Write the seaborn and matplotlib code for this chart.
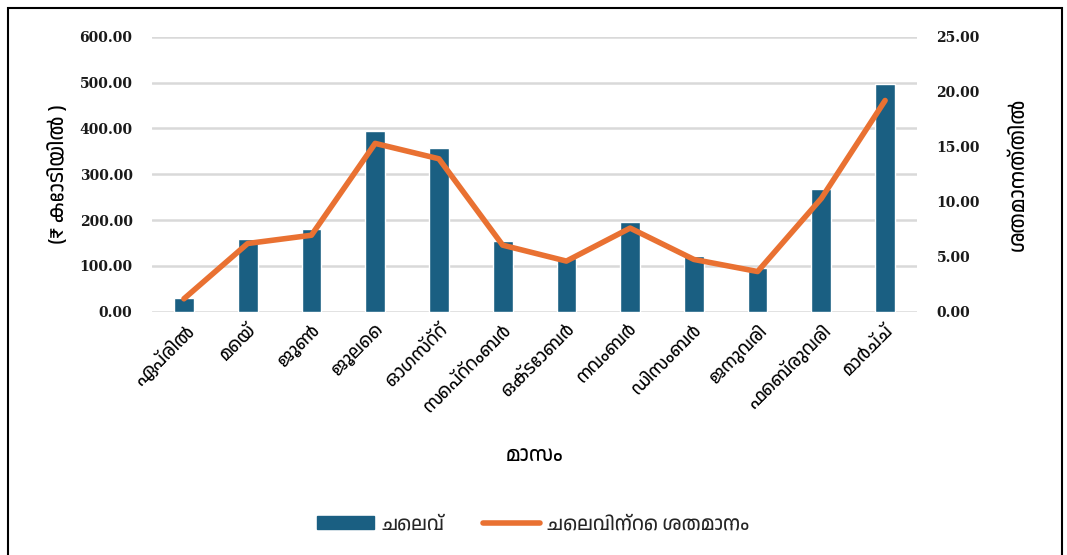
import numpy as np
import pandas as pd
import matplotlib
matplotlib.use("Agg")
import matplotlib.pyplot as plt
from matplotlib import font_manager
from matplotlib.patches import Rectangle
from matplotlib.lines import Line2D
import seaborn as sns

# --- chart data ---
months = ["ഏപ്രിൽ", "മെയ്", "ജൂൺ", "ജൂലൈ", "ഓഗസ്റ്റ്", "സെപ്റ്റംബർ",
          "ഒക്ടോബർ", "നവംബർ", "ഡിസംബർ", "ജനുവരി", "ഫെബ്രുവരി", "മാർച്ച്"]
spend = [30, 159, 180, 394, 357, 155, 117, 196, 121, 95, 268, 497]          # ₹ crore
spend_pct = [1.17, 6.2, 6.95, 15.3, 13.9, 6.05, 4.6, 7.6, 4.75, 3.65, 10.3, 19.2]
left_ticks = [0, 100, 200, 300, 400, 500, 600]
right_ticks = [0, 5, 10, 15, 20, 25]

x_title = "മാസം"
left_title = "(₹ കോടിയിൽ )"
right_title = "ശതമാനത്തിൽ"
bar_name = "ചെലവ്"
line_name = "ചെലവിന്റെ ശതമാനം"

BAR_COLOR = "#1a5f82"
LINE_COLOR = "#e97132"
GRID_COLOR = "#d9d9d9"

sns.set_theme(style="white")
ml_fonts = sorted({f.name for f in font_manager.fontManager.ttflist if "Malayalam" in f.name})
text_family = ml_fonts[:1] + ["Noto Sans", "DejaVu Sans"]
plt.rcParams["font.family"] = text_family

df = pd.DataFrame({"month": months, "spend": spend, "pct": spend_pct})

fig = plt.figure(figsize=(10.67, 5.55), dpi=100)
ax = fig.add_axes([0.1425, 0.4384, 0.7169, 0.4955])

sns.barplot(data=df, x="month", y="spend", color=BAR_COLOR, width=0.31,
            saturation=1, ax=ax, zorder=2)
ax.set_ylim(0, 600)
ax.set_yticks(left_ticks)
ax.set_yticklabels([f"{v:.2f}" for v in left_ticks], family="DejaVu Serif",
                   fontweight="bold", fontsize=10, color="#1a1a1a")
ax.yaxis.grid(True, color=GRID_COLOR, linewidth=1.8, zorder=0)
ax.set_axisbelow(True)
ax.tick_params(axis="y", length=0, pad=14)
ax.tick_params(axis="x", length=0, pad=7)
ax.set_xlim(-0.5, len(months) - 0.5)
plt.setp(ax.get_xticklabels(), rotation=45, ha="right", rotation_mode="anchor",
         fontsize=13, family=text_family, color="black")

ax2 = ax.twinx()
sns.lineplot(x=np.arange(len(months)), y=df["pct"], color=LINE_COLOR,
             linewidth=4, ax=ax2, solid_capstyle="round", zorder=3)
ax2.set_ylim(0, 25)
ax2.set_yticks(right_ticks)
ax2.set_yticklabels([f"{v:.2f}" for v in right_ticks], family="DejaVu Serif",
                    fontweight="bold", fontsize=10, color="#1a1a1a")
ax2.tick_params(axis="y", length=0, pad=14)
ax2.grid(False)

for a in (ax, ax2):
    for s in a.spines.values():
        s.set_visible(False)

ax.set_xlabel(x_title, fontsize=15, family=text_family, color="black")
ax.xaxis.set_label_coords(0.5, -0.49)
ax.set_ylabel(left_title, fontsize=15, family=text_family, color="black")
ax.yaxis.set_label_coords(-0.11, 0.5)
ax2.set_ylabel(right_title, fontsize=15, family=text_family, rotation=90, color="black")
ax2.yaxis.set_label_coords(1.12, 0.5)

handles = [Rectangle((0, 0), 1, 1, color=BAR_COLOR),
           Line2D([0], [0], color=LINE_COLOR, linewidth=4, solid_capstyle="round")]
fig.legend(handles, [bar_name, line_name], loc="center", bbox_to_anchor=(0.5, 1 - 524 / 555),
           ncol=2, frameon=False, handlelength=2.9, handleheight=0.7, handletextpad=0.4,
           columnspacing=2.0, prop={"family": text_family, "size": 14})

fig.add_artist(Rectangle((8 / 1067, -0.01), (1062 - 8) / 1067, 1 - 8 / 555 + 0.01,
                         transform=fig.transFigure, fill=False, edgecolor="black",
                         linewidth=1.5))

fig.savefig("out.png", dpi=100)
